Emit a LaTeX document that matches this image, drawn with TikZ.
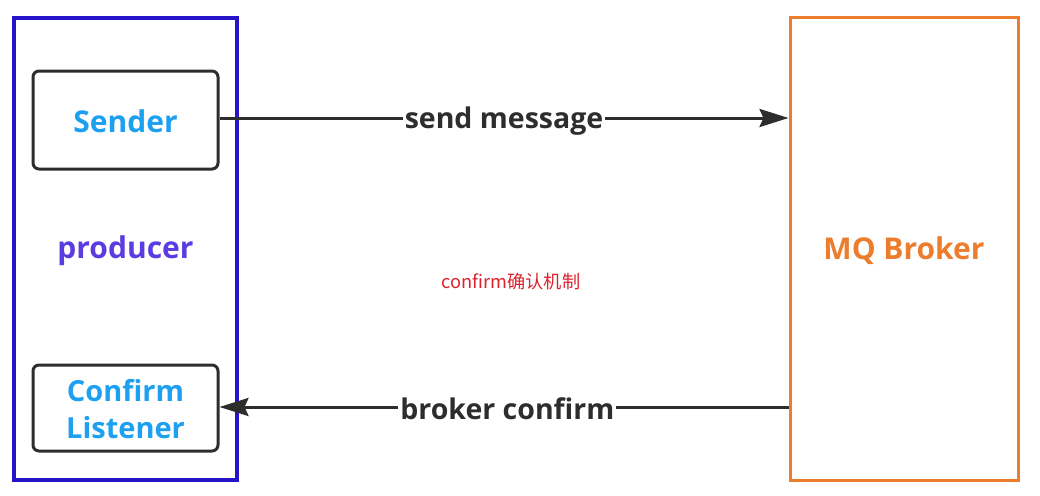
\documentclass[tikz,border=0pt]{standalone}
\usepackage{fontspec}
\setmainfont{Open Sans}
\newfontfamily\cjk{Noto Sans CJK SC}
\usetikzlibrary{arrows.meta}
\definecolor{prodblue}{RGB}{40,20,200}
\definecolor{brokerorange}{RGB}{236,125,45}
\definecolor{boxgray}{RGB}{45,45,45}
\definecolor{textblue}{RGB}{30,160,240}
\definecolor{textpurple}{RGB}{90,60,225}
\definecolor{linegray}{RGB}{45,45,45}
\definecolor{notered}{RGB}{220,35,45}
\tikzset{
  bigbox/.style={draw, line width=3.3pt, inner sep=0pt},
  innerbox/.style={draw=boxgray, line width=3pt, rounded corners=6pt, inner sep=0pt},
  boxtext/.style={font=\fontsize{30}{37}\selectfont\bfseries, align=center},
  conn/.style={draw=linegray, line width=3pt, -{Stealth[length=29pt,width=18pt,inset=4pt]}},
  connlabel/.style={fill=white, inner sep=2pt, text=linegray, font=\fontsize{28.5}{32}\selectfont\bfseries}
}
\begin{document}
\begin{tikzpicture}[x=1pt,y=-1pt]
\useasboundingbox[fill=white] (0,0) rectangle (1040,495);
% producer box
\node[bigbox, draw=prodblue, minimum width=223pt, minimum height=462pt] (prod) at (125.5,249) {};
\node[boxtext, text=textpurple] (prodlabel) at (125.5,251) {producer};
% Sender
\node[innerbox, minimum width=185pt, minimum height=98pt] (sender) at (125.5,120) {};
\node[boxtext, text=textblue] (sendertext) at (125.5,121) {Sender};
% Confirm listener
\node[innerbox, minimum width=185pt, minimum height=86pt] (listener) at (125.5,408) {};
\node[boxtext, text=textblue, font=\fontsize{29}{37}\selectfont\bfseries] (listenertext) at (125.5,409) {Confirm\\Listener};
% Broker
\node[bigbox, draw=brokerorange, line width=3pt, minimum width=228pt, minimum height=462pt] (broker) at (904,249) {};
\node[boxtext, text=brokerorange] (brokertext) at (904,251) {MQ Broker};
% connectors
\coordinate (s1) at (sender.east |- 0,118);
\coordinate (b1) at (broker.west |- 0,118);
\draw[conn] (s1) -- node[connlabel, pos=0.5, yshift=-3pt] (sm) {send message} (b1);
\coordinate (b2) at (broker.west |- 0,407);
\coordinate (l2) at (listener.east |- 0,407);
\draw[conn] (b2) -- node[connlabel, pos=0.494, yshift=-2pt] (bc) {broker confirm} (l2);
% note
\node[text=notered, font=\cjk\fontsize{18.2}{21}\selectfont, inner sep=0pt] (note) at (511,282) {confirm确认机制};
\end{tikzpicture}
\end{document}
